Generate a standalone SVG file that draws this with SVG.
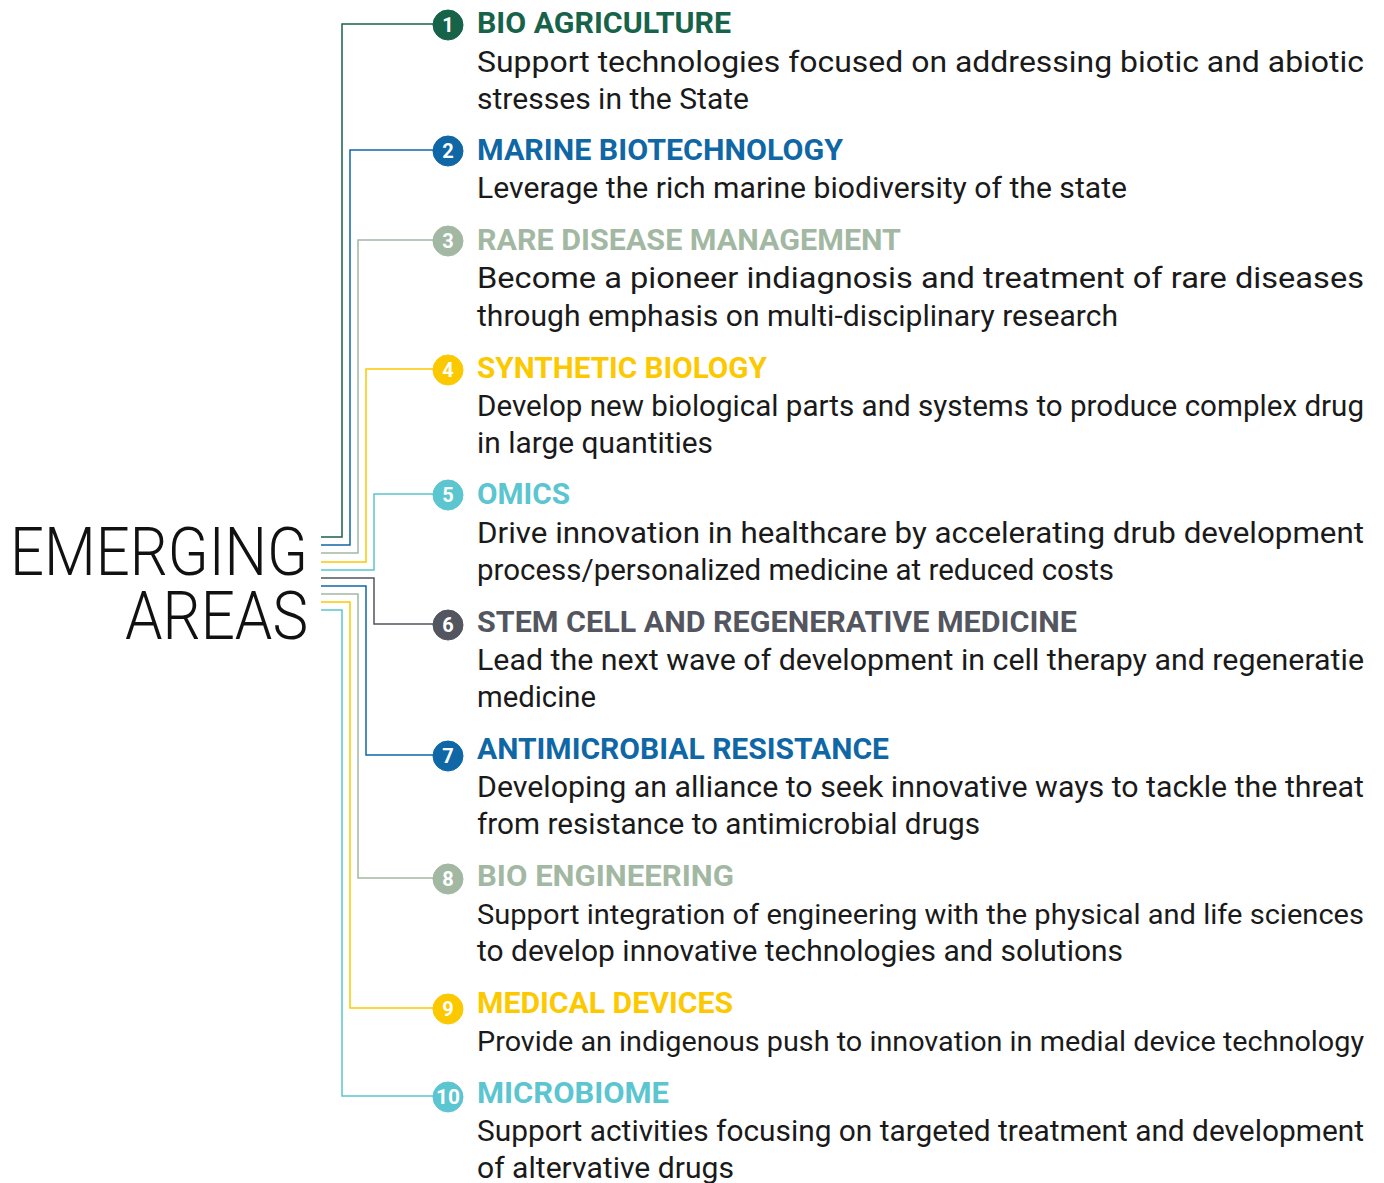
<svg xmlns="http://www.w3.org/2000/svg" width="1384" height="1183" viewBox="0 0 1384 1183">
<style>
.t{font-family:Roboto,"Noto Sans","Liberation Sans",sans-serif;font-weight:700;font-size:30px}
.b{font-family:Roboto,"Noto Sans","Liberation Sans",sans-serif;font-weight:400;font-size:30px;fill:#1a1a1a}
.s{font-size:28.5px}
.n{font-family:Roboto,"Noto Sans","Liberation Sans",sans-serif;font-weight:700;font-size:20px;fill:#fff;text-anchor:middle}
.big{font-family:Roboto,"Noto Sans","Liberation Sans",sans-serif;font-weight:300;font-size:66px;fill:#111;text-anchor:end}
path.c{fill:none;stroke-width:1.5}
.green{fill:#17634a;stroke:#17634a}
.blue{fill:#0f67a6;stroke:#0f67a6}
.sage{fill:#a2b8a3;stroke:#a2b8a3}
.yellow{fill:#fcc800;stroke:#fcc800}
.cyan{fill:#5bc5d0;stroke:#5bc5d0}
.grey{fill:#54565f;stroke:#54565f}
text.t,circle{stroke:none}
</style>
<rect width="1384" height="1183" fill="#fff"/>
<g id="title">
<text class="big" x="308" y="575" textLength="298" lengthAdjust="spacingAndGlyphs">EMERGING</text>
<text class="big" x="308" y="639" textLength="183" lengthAdjust="spacingAndGlyphs">AREAS</text>
</g>
<g id="connectors">
<path class="c green" d="M321,537H342V24H436"/>
<path class="c blue" d="M321,545H350V150H436"/>
<path class="c sage" d="M321,553H358V240H436"/>
<path class="c yellow" d="M321,562H366V369H436"/>
<path class="c cyan" d="M321,570H374V494H436"/>
<path class="c grey" d="M321,578H374V624H436"/>
<path class="c blue" d="M321,586H366V755H436"/>
<path class="c sage" d="M321,594H358V878H436"/>
<path class="c yellow" d="M321,602H350V1008H436"/>
<path class="c cyan" d="M321,610H342V1096H436"/>
</g>
<g id="node1">
<circle class="green" cx="448" cy="25" r="15"/><text class="n" x="448" y="32">1</text>
<text class="t green" x="477" y="33" textLength="254" lengthAdjust="spacingAndGlyphs">BIO AGRICULTURE</text>
<text class="b" x="477" y="72" textLength="887" lengthAdjust="spacingAndGlyphs">Support  technologies  focused  on  addressing  biotic  and  abiotic</text>
<text class="b" x="477" y="109" textLength="272" lengthAdjust="spacingAndGlyphs">stresses in the State</text>
</g>
<g id="node2">
<circle class="blue" cx="448" cy="151" r="15"/><text class="n" x="448" y="158">2</text>
<text class="t blue" x="477" y="160" textLength="366" lengthAdjust="spacingAndGlyphs">MARINE BIOTECHNOLOGY</text>
<text class="b" x="477" y="198" textLength="650" lengthAdjust="spacingAndGlyphs">Leverage the rich marine biodiversity of the state</text>
</g>
<g id="node3">
<circle class="sage" cx="448" cy="241" r="15"/><text class="n" x="448" y="248">3</text>
<text class="t sage" x="477" y="250" textLength="424" lengthAdjust="spacingAndGlyphs">RARE DISEASE MANAGEMENT</text>
<text class="b" x="477" y="288" textLength="887" lengthAdjust="spacingAndGlyphs">Become  a  pioneer  indiagnosis  and  treatment  of  rare  diseases</text>
<text class="b" x="477" y="326" textLength="641" lengthAdjust="spacingAndGlyphs">through emphasis on multi-disciplinary research</text>
</g>
<g id="node4">
<circle class="yellow" cx="448" cy="370" r="15"/><text class="n" x="448" y="377">4</text>
<text class="t yellow" x="477" y="378" textLength="290" lengthAdjust="spacingAndGlyphs">SYNTHETIC BIOLOGY</text>
<text class="b" x="477" y="416" textLength="887" lengthAdjust="spacingAndGlyphs">Develop new biological parts and systems to produce complex drug</text>
<text class="b" x="477" y="453" textLength="236" lengthAdjust="spacingAndGlyphs">in large quantities</text>
</g>
<g id="node5">
<circle class="cyan" cx="448" cy="495" r="15"/><text class="n" x="448" y="502">5</text>
<text class="t cyan" x="477" y="504" textLength="93" lengthAdjust="spacingAndGlyphs">OMICS</text>
<text class="b" x="477" y="543" textLength="887" lengthAdjust="spacingAndGlyphs">Drive  innovation  in  healthcare  by  accelerating  drub  development</text>
<text class="b" x="477" y="580" textLength="637" lengthAdjust="spacingAndGlyphs">process/personalized medicine at reduced costs</text>
</g>
<g id="node6">
<circle class="grey" cx="448" cy="625" r="15"/><text class="n" x="448" y="632">6</text>
<text class="t grey" x="477" y="632" textLength="600" lengthAdjust="spacingAndGlyphs">STEM CELL AND REGENERATIVE MEDICINE</text>
<text class="b" x="477" y="670" textLength="887" lengthAdjust="spacingAndGlyphs">Lead the next wave of development in cell therapy and regeneratie</text>
<text class="b" x="477" y="707" textLength="119" lengthAdjust="spacingAndGlyphs">medicine</text>
</g>
<g id="node7">
<circle class="blue" cx="448" cy="756" r="15"/><text class="n" x="448" y="763">7</text>
<text class="t blue" x="477" y="759" textLength="412" lengthAdjust="spacingAndGlyphs">ANTIMICROBIAL RESISTANCE</text>
<text class="b" x="477" y="797" textLength="887" lengthAdjust="spacingAndGlyphs">Developing an alliance to seek innovative ways to tackle the threat</text>
<text class="b" x="477" y="834" textLength="503" lengthAdjust="spacingAndGlyphs">from resistance to antimicrobial drugs</text>
</g>
<g id="node8">
<circle class="sage" cx="448" cy="879" r="15"/><text class="n" x="448" y="886">8</text>
<text class="t sage" x="477" y="886" textLength="257" lengthAdjust="spacingAndGlyphs">BIO ENGINEERING</text>
<text class="b s" x="477" y="924" textLength="887" lengthAdjust="spacingAndGlyphs">Support integration of engineering with the physical and life sciences</text>
<text class="b" x="477" y="961" textLength="646" lengthAdjust="spacingAndGlyphs">to develop innovative technologies and solutions</text>
</g>
<g id="node9">
<circle class="yellow" cx="448" cy="1009" r="15"/><text class="n" x="448" y="1016">9</text>
<text class="t yellow" x="477" y="1013" textLength="256" lengthAdjust="spacingAndGlyphs">MEDICAL DEVICES</text>
<text class="b s" x="477" y="1051" textLength="887" lengthAdjust="spacingAndGlyphs">Provide an indigenous push to innovation in medial device technology</text>
</g>
<g id="node10">
<circle class="cyan" cx="448" cy="1097" r="15"/><text class="n" x="448" y="1103.5" font-size="18" textLength="24" lengthAdjust="spacingAndGlyphs">10</text>
<text class="t cyan" x="477" y="1103" textLength="192" lengthAdjust="spacingAndGlyphs">MICROBIOME</text>
<text class="b" x="477" y="1141" textLength="887" lengthAdjust="spacingAndGlyphs">Support activities focusing on targeted treatment and development</text>
<text class="b" x="477" y="1178" textLength="257" lengthAdjust="spacingAndGlyphs">of altervative drugs</text>
</g>
</svg>
